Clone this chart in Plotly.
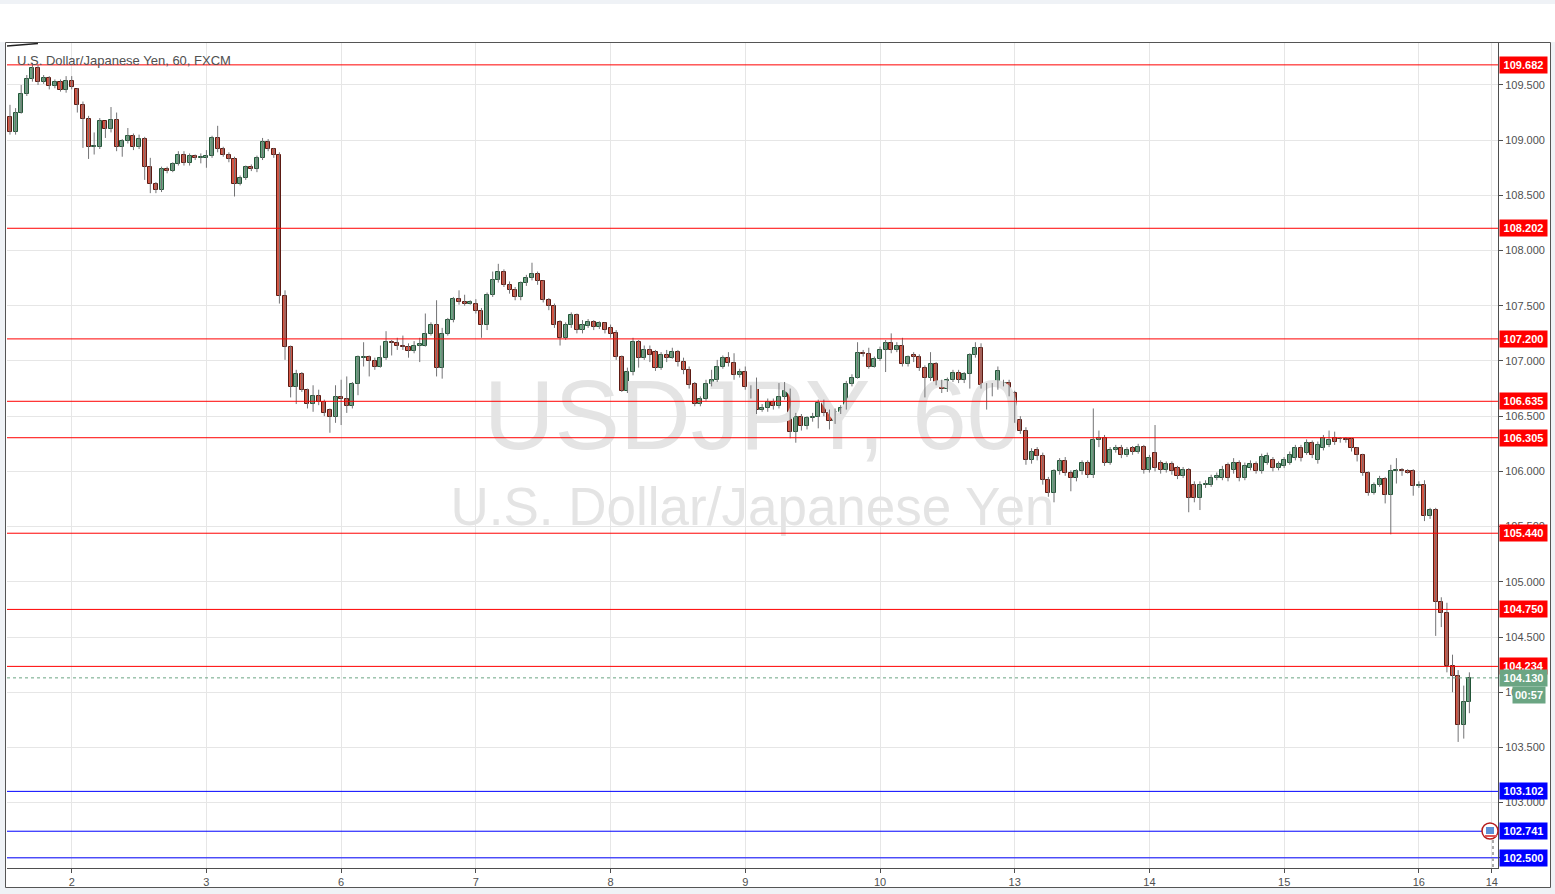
import plotly.graph_objects as go

# ---------------- data (USD/JPY, 60 min, FXCM) ----------------
title_text = "U.S. Dollar/Japanese Yen, 60, FXCM"
watermark_main = "USDJPY, 60"
watermark_sub = "U.S. Dollar/Japanese Yen"

day_labels = ["2", "3", "6", "7", "8", "9", "10", "13", "14", "15", "16"]
hour_label = "14"
first_candle_hour = 13          # series starts at 13:00 on day 1
hour_label_offset = 13          # hour label position inside last day

opens = [
    109.21, 109.07, 109.25, 109.42, 109.55, 109.65, 109.53, 109.56, 109.49, 109.53,
    109.45, 109.54, 109.46, 109.32, 109.19, 108.94, 108.94, 109.17, 109.10, 109.18,
    108.94, 108.99, 109.04, 108.94, 109.01, 108.76, 108.60, 108.55, 108.74, 108.72,
    108.78, 108.87, 108.79, 108.86, 108.84, 108.84, 108.86, 109.02, 108.92, 108.87,
    108.83, 108.60, 108.66, 108.76, 108.74, 108.84, 108.98, 108.92, 108.87, 107.59,
    107.13, 106.76, 106.88, 106.74, 106.61, 106.68, 106.63, 106.56, 106.49, 106.67,
    106.66, 106.59, 106.79, 107.03, 107.04, 107.00, 106.95, 107.03, 107.17, 107.16,
    107.14, 107.13, 107.09, 107.14, 107.14, 107.24, 107.33, 106.94, 107.24, 107.37,
    107.56, 107.53, 107.52, 107.52, 107.45, 107.33, 107.60, 107.73, 107.81, 107.69,
    107.64, 107.58, 107.71, 107.75, 107.79, 107.72, 107.55, 107.50, 107.35, 107.21,
    107.33, 107.42, 107.28, 107.32, 107.35, 107.31, 107.34, 107.30, 107.25, 107.04,
    106.73, 106.90, 107.17, 107.03, 107.10, 107.08, 106.94, 107.05, 107.03, 107.08,
    106.99, 106.92, 106.79, 106.61, 106.66, 106.79, 106.83, 106.95, 107.03, 106.98,
    106.87, 106.90, 106.76, 106.75, 106.56, 106.57, 106.63, 106.59, 106.67, 106.73,
    106.36, 106.49, 106.41, 106.48, 106.49, 106.62, 106.53, 106.46, 106.54, 106.57,
    106.79, 106.85, 107.07, 107.06, 106.95, 107.02, 107.10, 107.16, 107.10, 107.14,
    106.97, 107.05, 107.04, 106.94, 106.85, 106.97, 106.81, 106.75, 106.83, 106.89,
    106.83, 106.88, 107.05, 107.12, 106.78, 106.77, 106.76, 106.79, 106.80, 106.71,
    106.47, 106.37, 106.10, 106.19, 106.14, 105.92, 105.80, 106.00, 106.09, 105.99,
    105.94, 106.00, 106.08, 105.97, 106.28, 106.30, 106.08, 106.19, 106.21, 106.15,
    106.21, 106.18, 106.22, 106.01, 106.17, 106.08, 106.01, 106.07, 106.03, 105.96,
    106.01, 105.88, 105.76, 105.88, 105.88, 105.94, 105.94, 106.06, 106.01, 106.08,
    105.94, 106.03, 106.07, 106.00, 106.08, 106.10, 106.03, 106.05, 106.08, 106.12,
    106.21, 106.17, 106.26, 106.10, 106.21, 106.24, 106.30, 106.29, 106.29, 106.29,
    106.21, 106.15, 105.99, 105.80, 105.88, 105.93, 105.79, 106.00, 106.01, 106.00,
    106.00, 105.87, 105.88, 105.60, 105.65, 104.82, 104.72, 104.24, 104.15, 103.70, 103.91,
]
highs = [
    109.32, 109.29, 109.50, 109.59, 109.70, 109.68, 109.59, 109.58, 109.55, 109.55,
    109.58, 109.58, 109.47, 109.35, 109.22, 109.07, 109.20, 109.17, 109.30, 109.25,
    109.01, 109.11, 109.06, 109.05, 109.03, 108.84, 108.62, 108.76, 108.76, 108.80,
    108.90, 108.90, 108.88, 108.87, 108.88, 108.91, 109.04, 109.13, 108.94, 108.89,
    108.85, 108.68, 108.77, 108.78, 108.86, 109.02, 109.01, 108.93, 108.89, 107.64,
    107.14, 106.92, 106.90, 106.75, 106.78, 106.74, 106.65, 106.57, 106.78, 106.83,
    106.86, 106.81, 107.05, 107.17, 107.05, 107.03, 107.14, 107.27, 107.19, 107.21,
    107.23, 107.16, 107.18, 107.21, 107.43, 107.35, 107.55, 107.30, 107.39, 107.58,
    107.64, 107.60, 107.55, 107.56, 107.48, 107.62, 107.81, 107.88, 107.83, 107.72,
    107.67, 107.72, 107.78, 107.89, 107.81, 107.73, 107.57, 107.52, 107.37, 107.35,
    107.44, 107.43, 107.37, 107.38, 107.37, 107.36, 107.35, 107.33, 107.28, 107.05,
    106.94, 107.21, 107.19, 107.14, 107.14, 107.10, 107.08, 107.10, 107.12, 107.10,
    107.03, 106.95, 106.81, 106.68, 106.83, 106.92, 107.01, 107.05, 107.08, 107.07,
    106.93, 106.95, 106.78, 106.85, 106.61, 106.66, 106.66, 106.80, 106.81, 106.75,
    106.53, 106.52, 106.50, 106.53, 106.65, 106.65, 106.56, 106.57, 106.60, 106.82,
    106.88, 107.17, 107.10, 107.12, 107.04, 107.13, 107.19, 107.25, 107.17, 107.21,
    107.05, 107.08, 107.06, 106.96, 107.08, 106.99, 106.83, 106.85, 106.92, 106.92,
    106.90, 107.07, 107.17, 107.16, 106.80, 106.80, 106.95, 106.83, 106.83, 106.73,
    106.50, 106.40, 106.21, 106.22, 106.17, 105.95, 106.02, 106.12, 106.13, 106.01,
    106.02, 106.10, 106.10, 106.57, 106.37, 106.33, 106.22, 106.24, 106.24, 106.22,
    106.23, 106.25, 106.24, 106.15, 106.42, 106.10, 106.09, 106.09, 106.05, 106.04,
    106.03, 105.91, 105.91, 105.92, 105.97, 105.99, 106.05, 106.08, 106.12, 106.10,
    106.08, 106.10, 106.09, 106.16, 106.17, 106.13, 106.09, 106.13, 106.18, 106.24,
    106.24, 106.29, 106.28, 106.27, 106.33, 106.37, 106.36, 106.31, 106.31, 106.30,
    106.22, 106.16, 106.00, 105.90, 105.96, 105.95, 106.06, 106.12, 106.03, 106.02,
    106.02, 105.91, 105.92, 105.67, 105.67, 104.86, 104.81, 104.34, 104.20, 104.06, 104.18,
]
lows = [
    109.05, 109.05, 109.24, 109.40, 109.53, 109.50, 109.51, 109.46, 109.47, 109.44,
    109.43, 109.46, 109.25, 108.93, 108.83, 108.87, 108.92, 109.02, 109.07, 108.90,
    108.85, 108.97, 108.91, 108.92, 108.64, 108.52, 108.52, 108.53, 108.70, 108.71,
    108.77, 108.77, 108.77, 108.82, 108.79, 108.75, 108.84, 108.89, 108.85, 108.80,
    108.49, 108.59, 108.64, 108.72, 108.71, 108.82, 108.90, 108.84, 107.52, 107.01,
    106.67, 106.61, 106.72, 106.57, 106.54, 106.60, 106.50, 106.35, 106.44, 106.42,
    106.53, 106.57, 106.69, 106.95, 106.86, 106.92, 106.94, 107.01, 107.05, 107.10,
    107.10, 107.03, 107.07, 106.99, 107.13, 107.23, 106.86, 106.84, 107.23, 107.35,
    107.51, 107.50, 107.51, 107.43, 107.21, 107.28, 107.58, 107.71, 107.67, 107.61,
    107.55, 107.55, 107.68, 107.73, 107.69, 107.53, 107.46, 107.30, 107.14, 107.19,
    107.30, 107.25, 107.25, 107.30, 107.28, 107.29, 107.25, 107.21, 107.01, 106.72,
    106.71, 106.87, 106.94, 107.01, 106.99, 106.91, 106.92, 106.99, 107.02, 106.95,
    106.88, 106.75, 106.59, 106.59, 106.64, 106.77, 106.81, 106.93, 106.95, 106.83,
    106.85, 106.74, 106.66, 106.52, 106.54, 106.54, 106.56, 106.57, 106.65, 106.30,
    106.26, 106.37, 106.38, 106.45, 106.39, 106.50, 106.38, 106.43, 106.52, 106.56,
    106.77, 106.84, 107.04, 106.93, 106.94, 107.00, 106.90, 107.07, 107.08, 106.95,
    106.95, 106.99, 106.91, 106.67, 106.82, 106.78, 106.71, 106.72, 106.81, 106.80,
    106.80, 106.75, 107.03, 106.75, 106.56, 106.68, 106.74, 106.77, 106.68, 106.44,
    106.34, 106.06, 106.07, 106.10, 105.88, 105.77, 105.72, 105.97, 105.96, 105.82,
    105.91, 105.97, 105.94, 105.94, 106.22, 106.05, 106.06, 106.17, 106.12, 106.13,
    106.15, 106.16, 105.98, 105.99, 106.00, 105.98, 105.99, 105.97, 105.93, 105.94,
    105.63, 105.72, 105.65, 105.85, 105.86, 105.92, 105.92, 105.91, 105.98, 105.91,
    105.92, 106.01, 105.98, 105.98, 106.06, 106.00, 106.01, 106.03, 106.06, 106.10,
    106.09, 106.15, 106.12, 106.07, 106.19, 106.22, 106.24, 106.26, 106.26, 106.18,
    106.09, 105.96, 105.78, 105.79, 105.86, 105.71, 105.43, 105.89, 105.96, 105.98,
    105.78, 105.85, 105.55, 105.57, 104.51, 104.59, 104.18, 104.00, 103.55, 103.58, 103.81,
]
closes = [
    109.07, 109.25, 109.42, 109.55, 109.65, 109.53, 109.56, 109.49, 109.53, 109.45,
    109.54, 109.48, 109.32, 109.19, 108.94, 108.95, 109.17, 109.10, 109.18, 108.94,
    108.99, 109.04, 108.94, 109.01, 108.76, 108.60, 108.55, 108.74, 108.72, 108.78,
    108.87, 108.79, 108.86, 108.84, 108.85, 108.86, 109.02, 108.92, 108.87, 108.83,
    108.60, 108.66, 108.76, 108.74, 108.84, 108.98, 108.92, 108.87, 107.59, 107.13,
    106.76, 106.88, 106.74, 106.61, 106.68, 106.63, 106.53, 106.49, 106.67, 106.66,
    106.59, 106.79, 107.04, 107.04, 107.00, 106.95, 107.03, 107.17, 107.16, 107.14,
    107.13, 107.09, 107.14, 107.15, 107.24, 107.33, 106.94, 107.24, 107.37, 107.56,
    107.53, 107.52, 107.53, 107.45, 107.33, 107.60, 107.73, 107.81, 107.69, 107.64,
    107.58, 107.71, 107.75, 107.79, 107.72, 107.55, 107.50, 107.33, 107.21, 107.33,
    107.42, 107.28, 107.33, 107.35, 107.31, 107.34, 107.28, 107.24, 107.04, 106.73,
    106.90, 107.17, 107.03, 107.10, 107.05, 106.94, 107.05, 107.03, 107.08, 106.99,
    106.92, 106.78, 106.61, 106.66, 106.79, 106.83, 106.95, 107.03, 106.98, 106.87,
    106.90, 106.76, 106.75, 106.56, 106.57, 106.63, 106.59, 106.67, 106.73, 106.36,
    106.49, 106.41, 106.48, 106.49, 106.62, 106.53, 106.46, 106.54, 106.57, 106.79,
    106.85, 107.07, 107.06, 106.95, 107.02, 107.10, 107.16, 107.10, 107.14, 106.97,
    107.04, 107.04, 106.94, 106.85, 106.97, 106.81, 106.75, 106.83, 106.89, 106.83,
    106.88, 107.05, 107.12, 106.78, 106.77, 106.76, 106.91, 106.80, 106.71, 106.47,
    106.37, 106.10, 106.18, 106.14, 105.92, 105.80, 106.00, 106.09, 105.99, 105.94,
    106.00, 106.08, 105.97, 106.28, 106.30, 106.08, 106.19, 106.21, 106.15, 106.19,
    106.18, 106.22, 106.01, 106.12, 106.03, 106.01, 106.07, 106.00, 105.96, 106.01,
    105.76, 105.76, 105.88, 105.89, 105.94, 105.96, 106.01, 105.94, 106.08, 105.94,
    106.05, 106.07, 106.00, 106.13, 106.14, 106.03, 106.07, 106.10, 106.15, 106.21,
    106.12, 106.26, 106.15, 106.24, 106.30, 106.28, 106.27, 106.29, 106.28, 106.21,
    106.15, 105.99, 105.80, 105.88, 105.93, 105.79, 106.00, 106.01, 106.00, 105.99,
    105.87, 105.88, 105.60, 105.65, 104.82, 104.72, 104.24, 104.15, 103.70, 103.91, 104.13,
]

red_levels = [109.682, 108.202, 107.200, 106.635, 106.305, 105.440, 104.750, 104.234]
blue_levels = [103.102, 102.741, 102.500]
current_price = 104.130
countdown = "00:57"

# ---------------- style ----------------
UP_FILL, UP_LINE = "#6ba583", "#225437"
DN_FILL, DN_LINE = "#d75442", "#5b1a13"
WICK = "#737375"
GRID = "#e6e6e6"
AXIS = "#4f4f4f"
TXT = "#4f4f4f"
FONT = "Liberation Sans, Arial, sans-serif"

W, H = 1555, 894
ML, MR, MT, MB = 7, 57, 43, 26
PW, PH = W - ML - MR, H - MT - MB


def fx(px):
    return (px - ML) / PW


def fy(py):
    return (H - MB - py) / PH


n = len(opens)
xs = list(range(n))
x_range = [-0.53, 265.1]
y_range = [102.408, 109.880]

day0 = 24 - first_candle_hour
tickvals = [day0 + 24 * i for i in range(len(day_labels))]
tickvals.append(tickvals[-1] + hour_label_offset)
ticktext = day_labels + [hour_label]

fig = go.Figure()

# watermark (drawn first, behind candles)
xm = (x_range[0] + x_range[1]) / 2
yspan = y_range[1] - y_range[0]
fig.add_trace(go.Scatter(
    x=[xm], y=[y_range[0] + fy(424) * yspan], mode="text", text=[watermark_main],
    textposition="middle center", textfont=dict(size=98, color="#e4e4e4", family=FONT),
    hoverinfo="skip", showlegend=False, cliponaxis=False))
fig.add_trace(go.Scatter(
    x=[xm], y=[y_range[0] + fy(512) * yspan], mode="text", text=[watermark_sub],
    textposition="middle center", textfont=dict(size=53, color="#e4e4e4", family=FONT),
    hoverinfo="skip", showlegend=False, cliponaxis=False))

# wicks
wx, wy = [], []
for i in xs:
    wx += [i, i, None]
    wy += [highs[i], lows[i], None]
fig.add_trace(go.Scatter(x=wx, y=wy, mode="lines", line=dict(color=WICK, width=1),
                         hoverinfo="skip", showlegend=False))

# bodies
min_body = 0.008
for is_up, fill, edge in [(True, UP_FILL, UP_LINE), (False, DN_FILL, DN_LINE)]:
    idx = [i for i in xs if (closes[i] >= opens[i]) == is_up]
    fig.add_trace(go.Bar(
        x=idx,
        y=[max(abs(closes[i] - opens[i]), min_body) for i in idx],
        base=[min(opens[i], closes[i]) for i in idx],
        width=0.72,
        marker=dict(color=fill, line=dict(color=edge, width=1)),
        hoverinfo="skip", showlegend=False))

shapes = []
# outer frame and header strip
shapes.append(dict(type="rect", xref="paper", yref="paper", x0=fx(0), x1=fx(W), y0=fy(4), y1=fy(42),
                   fillcolor="white", line=dict(width=0), layer="below"))
shapes.append(dict(type="rect", xref="paper", yref="paper", x0=fx(5.5), x1=fx(1550.5), y0=fy(887.5), y1=fy(42.5),
                   fillcolor="white", line=dict(color="#555555", width=1), layer="below"))
# level lines
for lv in red_levels:
    shapes.append(dict(type="line", xref="paper", yref="y", x0=0, x1=1, y0=lv, y1=lv,
                       line=dict(color="#ff0000", width=1), layer="above"))
for lv in blue_levels:
    shapes.append(dict(type="line", xref="paper", yref="y", x0=0, x1=1, y0=lv, y1=lv,
                       line=dict(color="#0000ff", width=1), layer="above"))
# current price line
shapes.append(dict(type="line", xref="paper", yref="y", x0=0, x1=1, y0=current_price, y1=current_price,
                   line=dict(color=UP_FILL, width=1, dash="dot"), layer="above"))
# small drawing stroke at top-left
shapes.append(dict(type="line", xref="paper", yref="paper", x0=fx(7), x1=fx(38), y0=fy(46), y1=fy(43.5),
                   line=dict(color="#222222", width=1.5)))
# event marker (dotted stem + circle)
shapes.append(dict(type="line", xref="paper", yref="paper", x0=fx(1493), x1=fx(1493), y0=fy(867), y1=fy(840),
                   line=dict(color="#aaaaaa", width=2, dash="dot")))
shapes.append(dict(type="circle", xref="paper", yref="paper", x0=fx(1482), x1=fx(1498), y0=fy(839), y1=fy(823),
                   fillcolor="white", line=dict(color="#b51c1c", width=1.5)))
shapes.append(dict(type="rect", xref="paper", yref="paper", x0=fx(1486), x1=fx(1494), y0=fy(834), y1=fy(827),
                   fillcolor="#5b8fd6", line=dict(width=0)))
shapes.append(dict(type="rect", xref="paper", yref="paper", x0=fx(1485), x1=fx(1497), y0=fy(837), y1=fy(835),
                   fillcolor="#e05555", line=dict(width=0)))

annotations = []
annotations.append(dict(xref="paper", yref="paper", x=fx(15), y=fy(60), xanchor="left", yanchor="middle",
                        text=title_text, showarrow=False, font=dict(size=13, color="#505050", family=FONT)))


def price_label(val, bg, txt=None, yshift=0, width=45, xanchor="left", xshift=1):
    return dict(xref="paper", yref="y", x=1, y=val, xanchor=xanchor, yanchor="middle",
                xshift=xshift, yshift=yshift, text="<b>%s</b>" % (txt if txt else "%.3f" % val),
                showarrow=False, bgcolor=bg, borderpad=1, width=width, height=14, align="center",
                font=dict(size=11, color="white", family=FONT))


for lv in red_levels:
    annotations.append(price_label(lv, "#ff0000"))
for lv in blue_levels:
    annotations.append(price_label(lv, "#0000ff"))
annotations.append(price_label(current_price, UP_FILL))
annotations.append(price_label(current_price, UP_FILL, txt=countdown, yshift=-17, width=30,
                               xanchor="right", xshift=48))

fig.update_layout(
    width=W, height=H,
    margin=dict(l=ML, r=MR, t=MT, b=MB, pad=0),
    paper_bgcolor="#eff2f6", plot_bgcolor="white",
    barmode="overlay", bargap=0, showlegend=False, hovermode=False,
    font=dict(family=FONT, size=11, color=TXT),
    shapes=shapes, annotations=annotations,
    xaxis=dict(range=x_range, tickmode="array", tickvals=tickvals, ticktext=ticktext,
               showgrid=True, gridcolor=GRID, gridwidth=1, zeroline=False,
               showline=True, linecolor=AXIS, linewidth=1, mirror=False,
               ticks="outside", ticklen=4, tickcolor=AXIS, tickfont=dict(size=11, color=TXT)),
    yaxis=dict(range=y_range, side="right", tick0=102.5, dtick=0.5, tickformat=".3f",
               showgrid=True, gridcolor=GRID, gridwidth=1, zeroline=False,
               showline=True, linecolor=AXIS, linewidth=1,
               ticks="outside", ticklen=4, tickcolor=AXIS, tickfont=dict(size=11, color=TXT)),
)

fig.write_html(
    "out.html",
    config={"displayModeBar": False},
    post_script="document.body.style.margin='0';document.body.style.overflow='hidden';",
)
